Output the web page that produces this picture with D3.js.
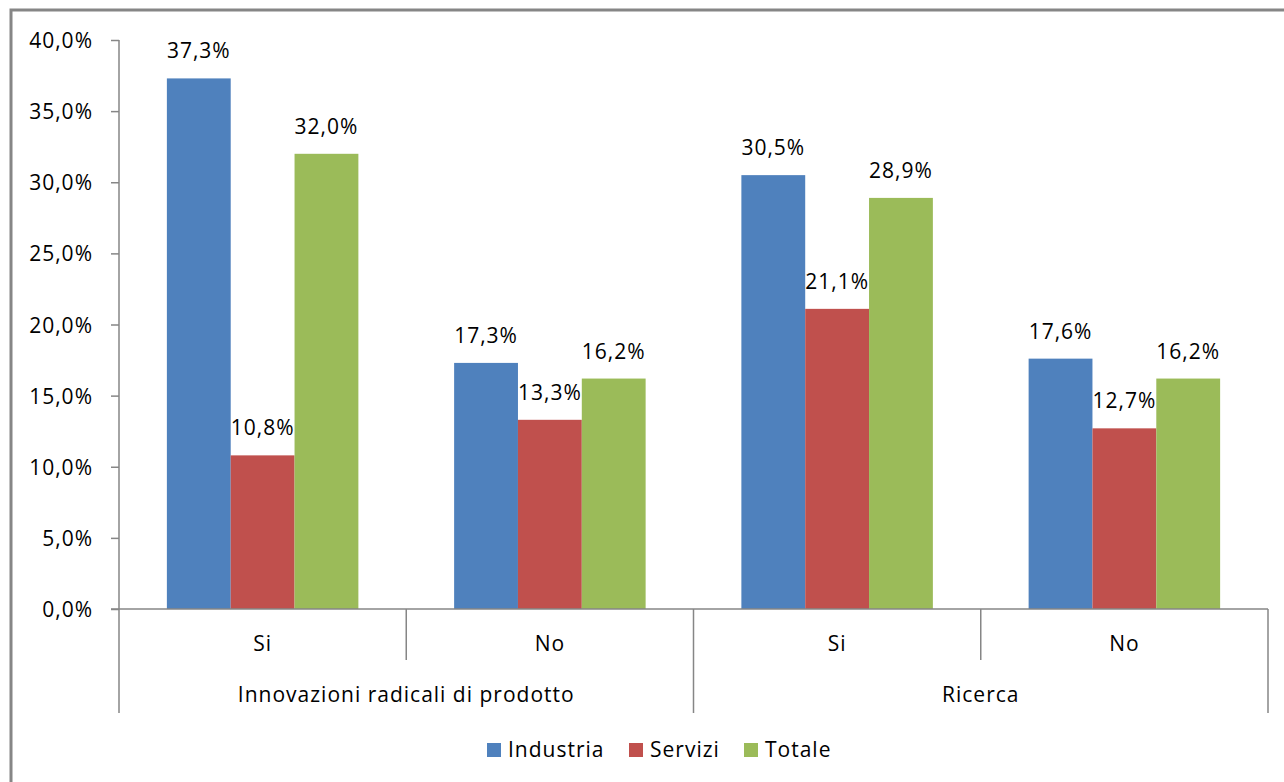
<!DOCTYPE html>
<html><head><meta charset="utf-8">
<script src="https://cdn.jsdelivr.net/npm/d3@7"></script>
<style>body{margin:0;background:#fff}svg{display:block}text{font-family:"Open Sans","DejaVu Sans",sans-serif;fill:#000;letter-spacing:1px}</style>
</head><body>
<svg id="c" width="1284" height="782"></svg>
<script>
const groups = ["Innovazioni radicali di prodotto", "Ricerca"];
const categories = ["Si", "No", "Si", "No"];
const categoryGroup = [0, 0, 1, 1];
const seriesNames = ["Industria", "Servizi", "Totale"];
const industria = [37.3, 17.3, 30.5, 17.6];
const servizi = [10.8, 13.3, 21.1, 12.7];
const totale = [32.0, 16.2, 28.9, 16.2];
const yTicks = [0, 5, 10, 15, 20, 25, 30, 35, 40];
const colors = ["#4F81BD", "#C0504D", "#9BBB59"];
const seriesValues = [industria, servizi, totale];

const FS = "21px";
const svg = d3.select("#c");
const fmt = v => d3.format(".1f")(v).replace(".", ",") + "%";

// outer border
svg.append("rect").attr("x", 11).attr("y", 10).attr("width", 1300).attr("height", 800)
  .attr("fill", "none").attr("stroke", "#868686").attr("stroke-width", 3);

const x0 = 119, x1 = 1268, yTop = 40, yBot = 609;
const y = d3.scaleLinear().domain([0, 40]).range([yBot, yTop]);
const xb = d3.scaleBand().domain(d3.range(categories.length)).range([x0, x1]).paddingInner(0).paddingOuter(0);
const bw = xb.bandwidth() / 4.5;
const xs = d3.scaleBand().domain(d3.range(3)).range([0, bw * 3]);

// y axis
const yAxis = d3.axisLeft(y).tickValues(yTicks).tickSize(8).tickPadding(18).tickFormat(fmt);
const ga = svg.append("g").attr("transform", `translate(${x0},0)`).call(yAxis);
ga.selectAll("path,line").attr("stroke", "#868686").attr("stroke-width", 1.5);
ga.select("path").attr("d", `M0,${yTop}V${yBot}`);
ga.selectAll("text").style("font-size", FS).attr("fill", "#000").attr("dy", "0.36em");

// bars
seriesValues.forEach((vals, s) => {
  svg.append("g").selectAll("rect").data(vals).enter().append("rect")
    .attr("x", (d, i) => xb(i) + (xb.bandwidth() - bw * 3) / 2 + xs(s))
    .attr("width", xs.bandwidth())
    .attr("y", d => y(d))
    .attr("height", d => yBot - y(d))
    .attr("fill", colors[s]);
  svg.append("g").selectAll("text").data(vals).enter().append("text")
    .attr("x", (d, i) => xb(i) + (xb.bandwidth() - bw * 3) / 2 + xs(s) + xs.bandwidth() / 2)
    .attr("y", d => y(d) - 20)
    .attr("text-anchor", "middle").style("font-size", FS)
    .text(d => fmt(d));
});

// x axis
const ax = svg.append("g").attr("stroke", "#868686").attr("stroke-width", 1.5);
ax.append("line").attr("x1", x0 - 8).attr("x2", x1).attr("y1", yBot).attr("y2", yBot);
const bounds = d3.range(categories.length + 1).map(i => i < categories.length ? xb(i) : x1);
bounds.forEach((b, i) => {
  const long = (i === 0 || i === categories.length || categoryGroup[i] !== categoryGroup[i - 1]);
  ax.append("line").attr("x1", b).attr("x2", b).attr("y1", yBot).attr("y2", long ? 713 : 660);
});
svg.append("g").selectAll("text").data(categories).enter().append("text")
  .attr("x", (d, i) => xb(i) + xb.bandwidth() / 2).attr("y", 651)
  .attr("text-anchor", "middle").style("font-size", FS).text(d => d);
svg.append("g").selectAll("text").data(groups).enter().append("text")
  .attr("x", (d, g) => {
    const idx = categoryGroup.map((c, i) => c === g ? i : -1).filter(i => i >= 0);
    return (xb(idx[0]) + xb(idx[idx.length - 1]) + xb.bandwidth()) / 2;
  })
  .attr("y", 702).attr("text-anchor", "middle").style("font-size", FS).text(d => d);

// legend
const legX = [487, 629, 744];
const lg = svg.append("g");
seriesNames.forEach((n, s) => {
  lg.append("rect").attr("x", legX[s]).attr("y", 743).attr("width", 14).attr("height", 14).attr("fill", colors[s]);
  lg.append("text").attr("x", legX[s] + 21).attr("y", 757).style("font-size", FS).text(n);
});
</script>
</body></html>
